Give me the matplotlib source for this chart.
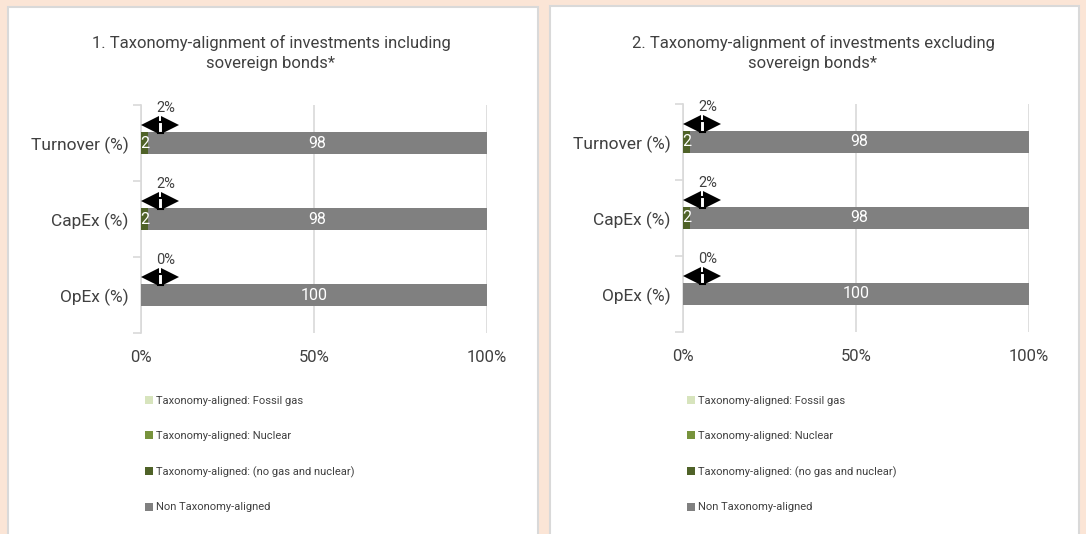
import matplotlib.pyplot as plt
from matplotlib.patches import Rectangle, Patch

plt.rcParams['font.family'] = ['Roboto', 'DejaVu Sans']

# chart data
categories = ['Turnover (%)', 'CapEx (%)', 'OpEx (%)']
fossil_gas = [0, 0, 0]
nuclear = [0, 0, 0]
aligned_other = [2, 2, 0]
non_aligned = [98, 98, 100]
callouts = ['2%', '2%', '0%']
xticks = [0, 50, 100]
xtick_labels = ['0%', '50%', '100%']
titles = ['1. Taxonomy-alignment of investments including\nsovereign bonds*',
          '2. Taxonomy-alignment of investments excluding\nsovereign bonds*']
legend_labels = ['Taxonomy-aligned: Fossil gas', 'Taxonomy-aligned: Nuclear',
                 'Taxonomy-aligned: (no gas and nuclear)', 'Non Taxonomy-aligned']

colors = ['#D7E4BD', '#77933C', '#4F6228', '#808080']
text_col = '#404040'
W, H = 1086, 534

fig = plt.figure(figsize=(W / 100, H / 100), dpi=100)
fig.patch.set_facecolor('#FBE5D6')

# white panels with a grey frame
panels = [(8, 7, 530), (550, 6, 529)]
for px, py, pw in panels:
    fig.patches.append(Rectangle((px / W, -0.01), pw / W, 1.01 - py / H, transform=fig.transFigure,
                                 facecolor='white', edgecolor='#D9D9D9', lw=1.5, zorder=-5))

axes_px = [(141, 105), (683, 104)]
for i, (ax_x, ax_y) in enumerate(axes_px):
    ax = fig.add_axes([ax_x / W, 1 - (ax_y + 228) / H, 346 / W, 228 / H])
    ax.set_facecolor('none')
    y = list(range(len(categories)))
    left = [0] * len(categories)
    series = [fossil_gas, nuclear, aligned_other, non_aligned]
    for vals, c in zip(series, colors):
        bars = ax.barh(y, vals, left=left, height=0.29, color=c, zorder=3)
        for b, v in zip(bars, vals):
            if v > 0:
                ax.text(b.get_x() + b.get_width() / 2, b.get_y() + b.get_height() / 2, str(v),
                        ha='center', va='center', color='white', fontsize=11.5, zorder=4)
        left = [l + v for l, v in zip(left, vals)]

    # callout arrows above each bar
    for yy, lab in zip(y, callouts):
        ay = yy - 0.237
        ax.plot([2.6, 8.4], [ay, ay], color='black', lw=2, zorder=5, clip_on=False)
        ax.plot([2.7], [ay], marker='<', ms=13, mew=0, color='black', zorder=5, clip_on=False)
        ax.plot([8.4], [ay], marker='>', ms=13, mew=0, color='black', zorder=5, clip_on=False)
        ax.add_patch(Rectangle((4.9, ay - 0.04), 1.5, 0.145, facecolor='white',
                               edgecolor='black', lw=1.5, zorder=6))
        ax.text(7.1, ay - 0.22, lab, ha='center', va='center', fontsize=10.5,
                color=text_col, zorder=6)

    ax.set_xlim(0, 100)
    ax.set_ylim(2.5, -0.5)
    ax.set_xticks(xticks)
    ax.set_xticklabels(xtick_labels, fontsize=12, color=text_col)
    ax.set_yticks(y)
    ax.set_yticklabels(categories, fontsize=12.5, color=text_col)
    ax.set_yticks([-0.5, 0.5, 1.5, 2.5], minor=True)
    ax.tick_params(axis='y', which='major', length=0, pad=9)
    ax.tick_params(axis='x', which='major', length=0, pad=12)
    ax.tick_params(axis='y', which='minor', length=6, color='#D9D9D9', width=1.2)
    ax.grid(axis='x', color='#D9D9D9', lw=1.2, zorder=0)
    for s in ['top', 'right', 'bottom']:
        ax.spines[s].set_visible(False)
    ax.spines['left'].set_color('#D9D9D9')
    ax.spines['left'].set_linewidth(1.2)

    fig.text((ax_x + 130) / W, 1 - 53 / H, titles[i], ha='center', va='center',
             fontsize=12, color=text_col, linespacing=1.45)

    handles = [Patch(facecolor=c, edgecolor='none') for c in colors]
    fig.legend(handles, legend_labels, loc='upper left',
               bbox_to_anchor=((ax_x + 4) / W, 1 - 396 / H), frameon=False,
               fontsize=8, labelspacing=2.25, handlelength=0.7, handleheight=0.7,
               handletextpad=0.25, borderpad=0, borderaxespad=0, labelcolor=text_col)

fig.savefig('out.png', dpi=100, facecolor=fig.get_facecolor())
